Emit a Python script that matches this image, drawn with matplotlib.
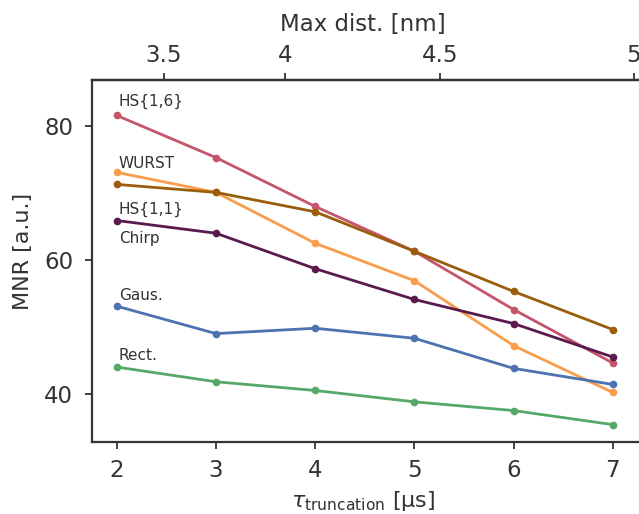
import numpy as np
import matplotlib
matplotlib.use("Agg")
import matplotlib.pyplot as plt

tau = [2, 3, 4, 5, 6, 7]

hs16 = [81.6, 75.3, 68.0, 61.3, 52.6, 44.6]
wurst = [73.1, 70.1, 62.5, 56.9, 47.2, 40.2]
hs11 = [71.3, 70.1, 67.2, 61.3, 55.3, 49.6]
chirp = [65.9, 64.0, 58.7, 54.1, 50.5, 45.5]
gaus = [53.1, 49.0, 49.8, 48.3, 43.8, 41.4]
rect = [44.0, 41.8, 40.5, 38.8, 37.5, 35.4]

series = [
    (hs16, "#c4556a"),
    (wurst, "#f99d4c"),
    (hs11, "#9a5d0c"),
    (chirp, "#5b1a4e"),
    (gaus, "#4c72b0"),
    (rect, "#55a868"),
]

# label texts and the y value where each one sits
labels = ["HS{1,6}", "WURST", "HS{1,1}", "Chirp", "Gaus.", "Rect."]
label_y = [83.7, 74.4, 67.6, 63.2, 54.7, 45.8]

dist_ticks = [3.5, 4, 4.5, 5]
dist_ticklabels = ["3.5", "4", "4.5", "5"]

plt.rcParams['font.family'] = 'DejaVu Sans'
plt.rcParams['text.color'] = '#333333'
plt.rcParams['axes.labelcolor'] = '#333333'
plt.rcParams['xtick.color'] = '#333333'
plt.rcParams['ytick.color'] = '#333333'

fig = plt.figure(figsize=(6.39, 5.14), dpi=100)
ax = fig.add_axes([92 / 639, 72 / 514, 560 / 639, 362 / 514])

for vals, col in series:
    ax.plot(tau, vals, color=col, lw=2, marker="o", ms=4.5)

for lab, yy in zip(labels, label_y):
    ax.text(2.02, yy, lab, fontsize=11, color="#333333", va="center", ha="left")

ax.set_xlim(1.75, 7.395)
ax.set_ylim(32.8, 86.9)
ax.set_xticks(tau)
ax.set_yticks([40, 60, 80])
ax.tick_params(labelsize=16.5, length=5, width=1.3, direction="out")
ax.tick_params(axis="x", pad=7.5)
ax.tick_params(axis="y", pad=8.5)
for s in ax.spines.values():
    s.set_linewidth(1.6)
    s.set_color("#333333")
ax.spines["right"].set_visible(False)

ax.set_xlabel(r"$\tau_{\mathrm{truncation}}$ [µs]", fontsize=16)
ax.xaxis.set_label_coords((363 - 92) / 560, -0.13)
ax.set_ylabel("MNR [a.u.]", fontsize=16)
ax.yaxis.set_label_coords(-0.105, 0.526)

k = 0.0577
sec = ax.secondary_xaxis("top", functions=(lambda t: (np.clip(t, 1e-6, None) / k) ** (1 / 3),
                                             lambda r: k * r ** 3))
sec.set_xticks(dist_ticks)
sec.set_xticklabels(dist_ticklabels)
sec.tick_params(labelsize=16.5, length=5, width=1.3, pad=4)
sec.spines["top"].set_linewidth(1.6)
sec.set_xlabel("Max dist. [nm]", fontsize=16.5)
sec.xaxis.set_label_coords((363 - 92) / 560, 1.135, transform=ax.transAxes)

fig.savefig("out.png", dpi=100)
